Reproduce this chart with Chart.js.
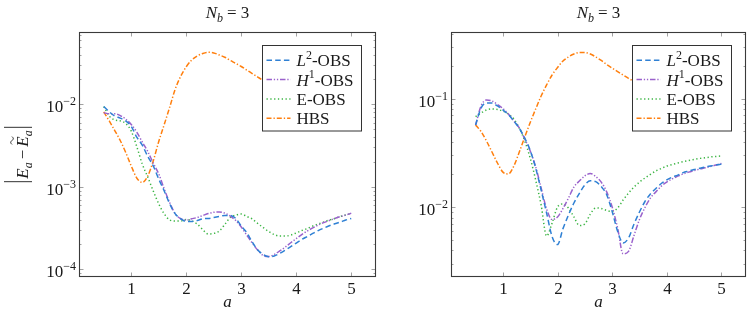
<!DOCTYPE html>
<html><head><meta charset="utf-8">
<script src="https://cdn.jsdelivr.net/npm/chart.js@4.4.0/dist/chart.umd.min.js"></script>
<style>
html,body{margin:0;padding:0;background:#fff;width:747px;height:315px;overflow:hidden}
canvas{position:absolute;top:0}
#c1{left:0}
#c2{left:380px}
</style></head><body>
<canvas id="c1" width="380" height="315"></canvas>
<canvas id="c2" width="367" height="315"></canvas>
<script>
// ---------- data ----------
const a = [0.5,0.6,0.7,0.8,0.9,1.0,1.1,1.2,1.3,1.4,1.5,1.6,1.7,1.8,1.9,2.0,2.1,2.2,2.3,2.4,2.5,2.6,2.7,2.8,2.9,3.0,
           3.1,3.2,3.3,3.4,3.5,3.6,3.7,3.8,3.9,4.0,4.1,4.2,4.3,4.4,4.5,4.6,4.7,4.8,4.9,5.0];

const seriesNames = ["L2-OBS","H1-OBS","E-OBS","HBS"];

// left panel: |E_a - E~_a|
const energyL2 = [0.0094,0.0081,0.0072,0.0068,0.0063,0.0054,
  0.0040,0.00321,0.00233,0.00179,0.00124,0.00089,0.00062,0.00047,0.00041,0.00038,
  0.00038,0.00039,0.00041,0.000413,0.000425,0.000437,0.000449,0.000449,0.000413,0.000335,
  0.000279,0.000214,0.000171,0.000151,0.000142,0.000145,0.000156,0.000171,0.000188,0.000208,
  0.00023,0.00025,0.000272,0.000295,0.000316,0.000337,0.000356,0.000374,0.000396,0.000413];
const energyH1 = [0.0079,0.0077,0.0077,0.0073,0.0066,0.0057,
  0.0046,0.0035,0.00268,0.00194,0.00143,0.00094,0.00064,0.00047,0.00041,0.000396,
  0.00041,0.000425,0.000449,0.000474,0.000491,0.000495,0.00048,0.000442,0.00039,0.000326,
  0.00026,0.000208,0.000171,0.000147,0.000143,0.000151,0.000167,0.000186,0.00021,0.000236,
  0.000264,0.000291,0.000318,0.000344,0.000369,0.00039,0.000413,0.000435,0.000455,0.000478];
const energyE = [0.0094,0.0072,0.00646,0.0063,0.00585,0.00474,
  0.00308,0.00189,0.00131,0.00089,0.00062,0.00047,0.000396,0.000385,0.000385,0.000402,
  0.000385,0.000354,0.000303,0.000268,0.000272,0.000291,0.000349,0.000425,0.000455,0.000468,
  0.000437,0.000407,0.000359,0.000321,0.000287,0.000264,0.000253,0.000253,0.00026,0.000276,
  0.000295,0.000312,0.000335,0.000354,0.000374,0.000396,0.000413,0.000437,0.000455,0.000474];
const energyHBS = [0.00807,0.00628,0.00481,0.00364,0.0026,0.00179,
  0.00128,0.00113,0.00135,0.00206,0.00354,0.00569,0.00927,0.0153,0.0219,0.0285,
  0.0344,0.0385,0.0413,0.0427,0.0419,0.0396,0.0372,0.034,0.0313,0.0287,
  0.026,0.0236,0.0214,0.0194,0.0177,0.0163,0.0151,0.0141,0.0133,0.0126,
  0.012,0.0115,0.0111,0.0107,0.0104,0.0101,0.0099,0.0097,0.0095,0.0093];

// right panel: ||rho_a - rho~_a||_{L1}
const densityL2 = [0.0572,0.082,0.0913,0.0912,0.0857,0.0787,
  0.0714,0.0622,0.0533,0.0434,0.0333,0.0229,0.01435,0.0088,0.00534,0.0045,
  0.00632,0.00843,0.0109,0.0134,0.016,0.01745,0.01714,0.01545,0.013,0.0091,
  0.00597,0.00466,0.00518,0.00697,0.009,0.01125,0.0132,0.01483,0.0165,0.0178,
  0.0189,0.0197,0.0208,0.0215,0.0222,0.0228,0.0234,0.0239,0.0244,0.0249];
const densityH1 = [0.057,0.0857,0.0973,0.0953,0.0884,0.0812,
  0.0723,0.0622,0.0537,0.0425,0.0329,0.0235,0.015,0.0096,0.00767,0.0081,
  0.0097,0.0121,0.0153,0.0174,0.0194,0.0204,0.0191,0.017,0.0138,0.01,
  0.0064,0.0037,0.0039,0.00546,0.00767,0.00988,0.0121,0.0138,0.0156,0.017,
  0.0182,0.0193,0.0202,0.021,0.0217,0.0224,0.023,0.0237,0.0244,0.0253];
const densityE = [0.0682,0.0738,0.0787,0.0804,0.0795,0.0769,
  0.0723,0.065,0.0537,0.0407,0.0283,0.01774,0.0104,0.0054,0.0071,0.01,
  0.01067,0.0098,0.0081,0.00675,0.00697,0.0086,0.0098,0.0097,0.0093,0.0091,
  0.0098,0.0116,0.01346,0.0153,0.017,0.01853,0.02,0.0215,0.0227,0.0239,
  0.0247,0.0255,0.0262,0.0269,0.0275,0.0281,0.0285,0.029,0.0293,0.0296];
const densityHBS = [0.0572,0.0498,0.0407,0.0322,0.0255,0.021,
  0.0202,0.0239,0.0322,0.0443,0.0603,0.0804,0.106,0.134,0.1656,0.194,
  0.223,0.243,0.259,0.267,0.267,0.259,0.243,0.2255,0.207,0.192,
  0.178,0.1656,0.154,0.145,0.137,0.13,0.124,0.119,0.115,0.111,
  0.108,0.105,0.102,0.1,0.098,0.096,0.094,0.093,0.092,0.091];

const xTicks = [1,2,3,4,5];
const energyYExponents = [-4,-3,-2];
const densityYExponents = [-2,-1];

// ---------- styling ----------
const SERIF = '"Liberation Serif","DejaVu Serif",serif';
const TXT = '#1a1a1a';
const FS = 17, FSS = 12;
const styles = [
  {color:'#2f80d4', dash:[5.5,3.2]},
  {color:'#9a62cc', dash:[5.5,1.8,1.3,1.8,1.3,1.8]},
  {color:'#3cb544', dash:[1.3,2.5]},
  {color:'#ff7f0e', dash:[5,2,1.3,2]}
];
const legendRuns = [
  [{t:'L',it:1},{t:'2',s:FSS,dy:-7.5},{t:'-OBS'}],
  [{t:'H',it:1},{t:'1',s:FSS,dy:-7.5},{t:'-OBS'}],
  [{t:'E-OBS'}],
  [{t:'HBS'}]
];

function fontOf(r){ return (r.it?'italic ':'') + (r.s||FS) + 'px ' + SERIF; }
function runW(ctx, r){
  if (r.bar) return r.w;
  ctx.font = fontOf(r); return ctx.measureText(r.t).width;
}
function drawTilde(ctx, cx, cy, w){
  ctx.save(); ctx.lineWidth = 0.9; ctx.strokeStyle = TXT; ctx.beginPath();
  const n = 12;
  for (let i=0;i<=n;i++){
    const t = i/n, x = cx - w/2 + t*w, y = cy - 1.3*Math.sin(t*2*Math.PI);
    if (i===0) ctx.moveTo(x,y); else ctx.lineTo(x,y);
  }
  ctx.stroke(); ctx.restore();
}
function drawRuns(ctx, x, y, runs, align){
  let w = 0; for (const r of runs) w += runW(ctx, r) + (r.sp||0);
  let cx = align==='center' ? x - w/2 : (align==='right' ? x - w : x);
  ctx.textAlign = 'left'; ctx.textBaseline = 'alphabetic'; ctx.fillStyle = TXT;
  for (const r of runs){
    const tw = runW(ctx, r);
    if (r.bar){
      ctx.save(); ctx.strokeStyle = TXT; ctx.lineWidth = 0.9;
      for (let k=0;k<r.bar;k++){
        const bx = cx + r.w/2 + (r.bar===2 ? (k-0.5)*2.6 : 0);
        ctx.beginPath(); ctx.moveTo(bx, y + r.below); ctx.lineTo(bx, y - r.above); ctx.stroke();
      }
      ctx.restore();
    } else {
      ctx.font = fontOf(r);
      ctx.fillText(r.t, cx, y + (r.dy||0));
      if (r.tilde) drawTilde(ctx, cx + tw/2 + (r.tx||0), y + (r.dy||0) - r.tilde, tw*0.75);
    }
    cx += tw + (r.sp||0);
  }
}

function framePlugin(cfg){
  return { id:'frame', afterDraw(chart){
    const ctx = chart.ctx, ca = chart.chartArea, xs = chart.scales.x, ys = chart.scales.y;
    const L = ca.left, R = ca.right, T = ca.top, B = ca.bottom;
    ctx.save();
    // minor y ticks
    ctx.strokeStyle = '#8a8a8a'; ctx.lineWidth = 0.8;
    const lo = Math.floor(Math.log10(cfg.ymin)), hi = Math.ceil(Math.log10(cfg.ymax));
    for (let e=lo; e<=hi; e++){
      for (let k=2;k<=9;k++){
        const v = k*Math.pow(10,e);
        if (v<cfg.ymin || v>cfg.ymax) continue;
        const p = Math.round(ys.getPixelForValue(v))+0.5;
        ctx.beginPath(); ctx.moveTo(L,p); ctx.lineTo(L+2.5,p); ctx.moveTo(R,p); ctx.lineTo(R-2.5,p); ctx.stroke();
      }
    }
    // major y ticks + labels
    for (const e of cfg.yExp){
      const p = Math.round(ys.getPixelForValue(Math.pow(10,e)))+0.5;
      ctx.strokeStyle = '#8a8a8a';
      ctx.beginPath(); ctx.moveTo(L,p); ctx.lineTo(L+4.5,p); ctx.moveTo(R,p); ctx.lineTo(R-4.5,p); ctx.stroke();
      drawRuns(ctx, L-3, p+7.5, [{t:'10'},{t:'\u2212'+Math.abs(e),s:FSS,dy:-7.5}], 'right');
    }
    // x ticks + labels
    for (const t of xTicks){
      const p = Math.round(xs.getPixelForValue(t))+0.5;
      ctx.strokeStyle = '#8a8a8a';
      ctx.beginPath(); ctx.moveTo(p,B); ctx.lineTo(p,B-4.5); ctx.moveTo(p,T); ctx.lineTo(p,T+4.5); ctx.stroke();
      drawRuns(ctx, p, 293.5, [{t:String(t)}], 'center');
    }
    // frame
    ctx.strokeStyle = '#3a3a3a'; ctx.lineWidth = 1.1;
    ctx.strokeRect(Math.round(L)+0.5, Math.round(T)+0.5, Math.round(R-L)-1, Math.round(B-T)-1);
    // title
    drawRuns(ctx, (L+R)/2, 18, [{t:'N',it:1},{t:'b',it:1,s:FSS,dy:3.5,sp:4},{t:'= 3'}], 'center');
    // x title
    drawRuns(ctx, (L+R)/2, 307, [{t:'a',it:1}], 'center');
    // y title
    ctx.save();
    ctx.translate(cfg.ytx, (T+B)/2);
    ctx.rotate(-Math.PI/2);
    drawRuns(ctx, 0, 0, cfg.yTitle, 'center');
    ctx.restore();
    // legend
    const bw = 99, bh = 85.5, bx = Math.round(R - 15 - bw)+0.5, by = Math.round(T + 12.7)+0.5;
    ctx.fillStyle = '#fff'; ctx.fillRect(bx, by, bw, bh);
    ctx.strokeStyle = '#333'; ctx.lineWidth = 1; ctx.strokeRect(bx, by, bw, bh);
    for (let i=0;i<4;i++){
      const yy = by + 14.8 + i*19.3;
      ctx.save(); ctx.strokeStyle = styles[i].color; ctx.lineWidth = 1.5; ctx.setLineDash(styles[i].dash);
      ctx.beginPath(); ctx.moveTo(bx+4, yy); ctx.lineTo(bx+28, yy); ctx.stroke(); ctx.restore();
      drawRuns(ctx, bx+34, yy+6, legendRuns[i], 'left');
    }
    ctx.restore();
  }};
}

function makeChart(id, cfg){
  const values = cfg.values;
  return new Chart(document.getElementById(id), {
    type:'line',
    data:{ datasets: values.map((vals,i)=>({
      label: seriesNames[i],
      data: a.map((x,j)=>({x:x, y:vals[j]})),
      borderColor: styles[i].color, borderDash: styles[i].dash, borderWidth: 1.5,
      pointRadius: 0, fill:false, cubicInterpolationMode:'monotone'
    }))},
    options:{
      responsive:false, animation:false, devicePixelRatio:1, events:[],
      layout:{padding:{left:cfg.left, right:cfg.right, top:32, bottom:38}},
      plugins:{legend:{display:false}, tooltip:{enabled:false}, title:{display:false}},
      scales:{
        x:{type:'linear', display:false, min:0.05, max:5.45},
        y:{type:'logarithmic', display:false, min:cfg.ymin, max:cfg.ymax}
      }
    },
    plugins:[framePlugin(cfg)]
  });
}

makeChart('c1', {
  values:[energyL2, energyH1, energyE, energyHBS],
  left:79, right:4, ymin:Math.pow(10,-4.093), ymax:Math.pow(10,-1.124), yExp:energyYExponents,
  ytx:28,
  yTitle:[{bar:1,w:6,below:4,above:24},{t:'E',it:1},{t:'a',it:1,s:FSS,dy:3.5,sp:3},{t:'\u2212',sp:3},
          {t:'E',it:1,tilde:16,tx:1},{t:'a',it:1,s:FSS,dy:3.5},{bar:1,w:6,below:4,above:24}]
});
makeChart('c2', {
  values:[densityL2, densityH1, densityE, densityHBS],
  left:71, right:1, ymin:Math.pow(10,-2.646), ymax:Math.pow(10,-0.384), yExp:densityYExponents,
  ytx:398,
  yTitle:[{bar:2,w:7,below:3.5,above:10.5},{t:'\u03c1',it:1},{t:'a',it:1,s:FSS,dy:3.5,sp:3},{t:'\u2212',sp:3},
          {t:'\u03c1',it:1,tilde:12,tx:1},{t:'a',it:1,s:FSS,dy:3.5},{bar:2,w:7,below:3.5,above:10.5},
          {t:'L',it:1,s:FSS,dy:3.5},{t:'1',s:9,dy:-1.5}]
});
</script>
</body></html>
